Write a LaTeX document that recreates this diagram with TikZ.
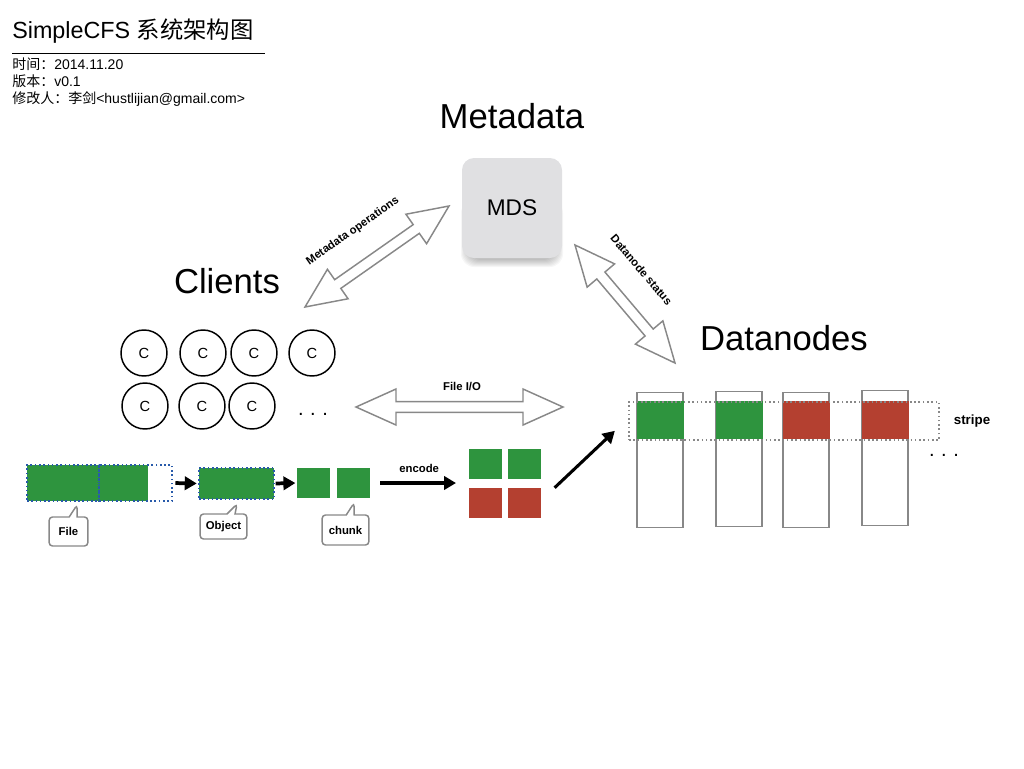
\documentclass[tikz,border=0pt]{standalone}
\usepackage{fontspec}
\setmainfont{Liberation Sans}
\newfontfamily\cjk{Noto Sans CJK SC}
\usepackage{tikz}
\usetikzlibrary{arrows.meta}
\usetikzlibrary{calc}
\usetikzlibrary{positioning,shapes.callouts}

\definecolor{blockgreen}{RGB}{46,148,62}
\definecolor{blockred}{RGB}{180,64,48}
\definecolor{edgegray}{RGB}{136,136,136}
\definecolor{mdsgray}{RGB}{224,224,226}
\definecolor{dotblue}{RGB}{40,90,170}

% hollow double arrow between two named points
\def\headlen{30pt}
\def\headw{13.5pt}
\def\shaftw{4pt}
\newcommand{\hollowarrow}[2]{%
  \draw[hollow] (#1)
    -- ($(#1)!\headlen!(#2)!\headw!90:(#2)$)
    -- ($(#1)!\headlen!(#2)!\shaftw!90:(#2)$)
    -- ($(#2)!\headlen!(#1)!\shaftw!90:(#2)$)
    -- ($(#2)!\headlen!(#1)!\headw!90:(#2)$)
    -- (#2)
    -- ($(#2)!\headlen!(#1)!\headw!-90:(#2)$)
    -- ($(#2)!\headlen!(#1)!\shaftw!-90:(#2)$)
    -- ($(#1)!\headlen!(#2)!\shaftw!-90:(#2)$)
    -- ($(#1)!\headlen!(#2)!\headw!-90:(#2)$)
    -- cycle;}

\begin{document}
\begin{tikzpicture}[
        x=0.75pt, y=-0.75pt,
        info/.style={anchor=base west, inner sep=0, font=\fontsize{10.5}{12}\selectfont},
        big/.style={anchor=base, inner sep=0, font=\fontsize{26}{30}\selectfont},
        lbl/.style={inner sep=0, font=\bfseries\fontsize{8.5}{10}\selectfont},
        hollow/.style={draw=edgegray, line width=1.1pt, fill=white, line join=miter},
        mds/.style={fill=mdsgray, rounded corners=9pt, minimum size=75pt,
            font=\fontsize{17}{20}\selectfont},
        client/.style={circle, draw, line width=1.1pt, minimum size=34.5pt, inner sep=0,
            font=\fontsize{11}{13}\selectfont},
        blk/.style={minimum height=27pt, inner sep=0},
        dotbox/.style={draw=dotblue, dotted, line width=1.2pt, minimum height=27pt, inner sep=0},
        chunkbox/.style={inner sep=0, minimum width=24.75pt, minimum height=22.5pt},
        column/.style={draw=edgegray, line width=1.1pt, minimum width=34.5pt, minimum height=101pt, inner sep=0},
        stripeblock/.style={minimum width=35.25pt, minimum height=28.5pt, inner sep=0},
        note/.style={rectangle callout, draw=edgegray, line width=1.1pt, fill=white,
            rounded corners=2.5pt, callout pointer width=6pt, inner sep=0,
            font=\bfseries\fontsize{8.5}{10}\selectfont},
        fat/.style={line width=2.3pt, -{Triangle[length=9pt,width=10pt]}},
        dots/.style={font=\fontsize{15}{17}\selectfont, inner sep=0}
    ]
        \useasboundingbox (0,0) rectangle (1024,768);

        % Header
        \node[anchor=base west, inner sep=0, font=\fontsize{17.5}{20}\selectfont] (title) at (12,38) {SimpleCFS {\cjk 系统架构图}};
        \draw[line width=0.6pt] (12,53) -- (265,53);
        \node[info] (date) at (12,69) {{\cjk 时间：}2014.11.20};
        \node[info] (version) at (12,86) {{\cjk 版本：}v0.1};
        \node[info] (author) at (12,103) {{\cjk 修改人：李剑}<hustlijian@gmail.com>};

        % Metadata server, soft shadow first
        \node[big] (metalabel) at (512,128) {Metadata};
        \foreach \s in {0,...,7}
            \fill[black, opacity=0.035, rounded corners=10pt] (468-\s,200) rectangle (556+\s,260+\s);
        \node[mds] (mds) at (512,208) {MDS};

        % Clients
        \node[big] (clientlabel) at (227,293) {Clients};
        \foreach \x/\n in {144/1, 203/2, 254/3, 312/4}
            \node[client] (c\n) at (\x,353) {C};
        \foreach \x/\n in {145/5, 202/6, 252/7}
            \node[client] (c\n) at (\x,406) {C};
        \node[dots] (cdots) at (313,414) {.\,\,.\,\,.};

        % Datanodes
        \node[big] (datalabel) at (784,350) {Datanodes};
        \foreach \x/\y/\c/\n in {
            660/460/blockgreen/1,
            739/459/blockgreen/2,
            806/460/blockred/3,
            885/458/blockred/4
        } {
            \node[column] (d\n) at (\x,\y) {};
            \node[stripeblock, fill=\c] (b\n) at (\x,420) {};
        }
        \node[draw=edgegray, dotted, line width=1.2pt, minimum width=232.5pt, minimum height=28.5pt, inner sep=0] (stripe) at (784,421) {};
        \node[lbl, font=\bfseries\fontsize{10}{12}\selectfont] (stripelabel) at (972,421) {stripe};
        \node[dots] (ddots) at (944,455) {.\,\,.\,\,.};

        % Arrows between the three parts
        \coordinate (opsA) at (305,307);
        \coordinate (opsB) at (449,206);
        \hollowarrow{opsA}{opsB}
        \path ($(opsA)!26pt!90:(opsB)$) -- node[lbl, sloped, pos=.47] {Metadata operations} ($(opsB)!26pt!-90:(opsA)$);

        \coordinate (statA) at (575,245);
        \coordinate (statB) at (675,363);
        \hollowarrow{statA}{statB}
        \path ($(statA)!26pt!90:(statB)$) -- node[lbl, sloped, pos=.4] {Datanode status} ($(statB)!26pt!-90:(statA)$);

        \coordinate (ioA) at (356,407);
        \coordinate (ioB) at (563,407);
        \hollowarrow{ioA}{ioB}
        \node[lbl] (iolabel) at (462,386) {File I/O};

        % File -> object -> chunks
        \node[blk, fill=blockgreen, minimum width=90.75pt] (filedata) at (87.5,483) {};
        \node[dotbox, minimum width=54pt] (f1) at (63,483) {};
        \node[dotbox, minimum width=54.75pt] (f2) at (135.5,483) {};
        \node[blk, fill=blockgreen, minimum width=56.25pt, minimum height=23.25pt] (obj) at (236.5,483.5) {};
        \node[dotbox, minimum width=56.25pt, minimum height=23.25pt] at (obj) {};
        \node[chunkbox, fill=blockgreen] (ch1) at (313.5,483) {};
        \node[chunkbox, fill=blockgreen] (ch2) at (353.5,483) {};

        \draw[fat, line width=2.8pt, shorten <=2pt, shorten >=1.5pt] (f2.east) -- (obj.west);
        \draw[fat, line width=2.8pt, shorten <=1pt, shorten >=1pt] (obj.east) -- (ch1.west);

        \node[note, minimum width=29pt, minimum height=21.75pt, callout absolute pointer={(77,505)}] (filenote) at (68.5,531.5) {File};
        \node[note, minimum width=35pt, minimum height=18.75pt, callout absolute pointer={(237,504)}] (objnote) at (223.5,526.5) {Object};
        \node[note, minimum width=35pt, minimum height=22.5pt, callout absolute pointer={(354,503)}] (chunknote) at (345.5,530) {chunk};

        % Encoding
        \node[chunkbox, fill=blockgreen] (sq1) at (485,463.5) {};
        \node[chunkbox, fill=blockgreen] (sq2) at (524.5,463.5) {};
        \node[chunkbox, fill=blockred] (sq3) at (485,503) {};
        \node[chunkbox, fill=blockred] (sq4) at (524.5,503) {};
        \coordinate (codeleft) at (468,483);
        \draw[fat, shorten <=7.5pt, shorten >=9pt] (ch2.east |- codeleft) -- node[lbl, above=7pt] (enclabel) {encode} (codeleft);
        \draw[fat] ([xshift=10pt]sq4.north east) -- ([xshift=-10pt, yshift=7.5pt]stripe.south west);
    \end{tikzpicture}
\end{document}
